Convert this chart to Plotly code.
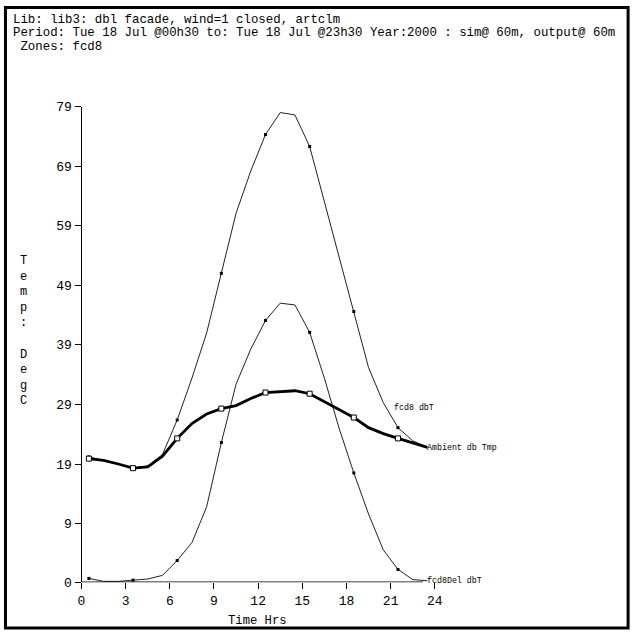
import plotly.graph_objects as go

# ---- data -------------------------------------------------------------
hours = [0.5, 1.5, 2.5, 3.5, 4.5, 5.5, 6.5, 7.5, 8.5, 9.5, 10.5, 11.5,
         12.5, 13.5, 14.5, 15.5, 16.5, 17.5, 18.5, 19.5, 20.5, 21.5, 22.5, 23.5]

fcd8_dbT = [20.2, 19.6, 18.9, 18.3, 18.7, 20.6, 26.4, 33.4, 41.0, 51.0, 61.1, 68.2,
            74.3, 78.0, 77.6, 72.3, 63.0, 53.8, 44.6, 35.2, 29.3, 25.1, 22.9, 21.8]

ambient_dbT = [19.9, 19.6, 19.0, 18.3, 18.5, 20.3, 23.3, 25.8, 27.4, 28.3, 28.8, 30.0,
               31.0, 31.2, 31.3, 30.8, 29.5, 28.2, 26.8, 25.1, 24.1, 23.3, 22.6, 21.8]

fcd8Del_dbT = [-0.2, -0.7, -0.7, -0.5, -0.3, 0.3, 2.8, 5.8, 11.8, 22.6, 32.4, 38.3,
               43.1, 46.0, 45.7, 41.1, 33.4, 25.0, 17.5, 10.6, 4.6, 1.3, -0.4, -0.6]

series_names = ["fcd8 dbT", "Ambient db Tmp", "fcd8Del dbT"]

x_tick_vals = [0, 3, 6, 9, 12, 15, 18, 21, 24]
x_tick_text = ["0", "3", "6", "9", "12", "15", "18", "21", "24"]

Y_MIN = -0.84
Y_MAX = 79.0
y_tick_vals = [Y_MIN, 9, 19, 29, 39, 49, 59, 69, 79]
y_tick_text = ["0", "9", "19", "29", "39", "49", "59", "69", "79"]

header_lines = [
    "Lib: lib3: dbl facade, wind=1 closed, artclm",
    "Period: Tue 18 Jul @00h30 to: Tue 18 Jul @23h30 Year:2000 : sim@ 60m, output@ 60m",
    " Zones: fcd8",
]
y_title = "Temp: DegC"
x_title = "Time Hrs"

# ---- figure -----------------------------------------------------------
W = H = 641
MONO = "Liberation Mono, DejaVu Sans Mono, monospace"

fig = go.Figure()

mk = slice(0, None, 3)

fig.add_trace(go.Scatter(x=hours, y=fcd8_dbT, mode="lines",
                         line=dict(color="#222", width=1), cliponaxis=False))
fig.add_trace(go.Scatter(x=hours[mk], y=fcd8_dbT[mk], mode="markers",
                         marker=dict(color="black", size=3, symbol="square"),
                         cliponaxis=False))

fig.add_trace(go.Scatter(x=hours, y=fcd8Del_dbT, mode="lines",
                         line=dict(color="#222", width=1), cliponaxis=False))
fig.add_trace(go.Scatter(x=hours[mk], y=fcd8Del_dbT[mk], mode="markers",
                         marker=dict(color="black", size=3, symbol="square"),
                         cliponaxis=False))

fig.add_trace(go.Scatter(x=hours, y=ambient_dbT, mode="lines",
                         line=dict(color="black", width=2.8), cliponaxis=False))
fig.add_trace(go.Scatter(x=hours[mk], y=ambient_dbT[mk], mode="markers",
                         marker=dict(color="white", size=5, symbol="square",
                                     line=dict(color="black", width=1)),
                         cliponaxis=False))

# domains so that x=0 -> px 79, x=24 -> px 439 ; y=Y_MIN -> px 590, y=79 -> px 103
fig.update_layout(
    width=W, height=H,
    margin=dict(l=0, r=0, t=0, b=0),
    paper_bgcolor="white", plot_bgcolor="white",
    showlegend=False,
    xaxis=dict(domain=[79 / W, 439 / W], range=[0, 24],
               tickvals=x_tick_vals, ticktext=x_tick_text,
               ticks="outside", ticklen=6, tickcolor="black", tickwidth=1,
               showgrid=False, zeroline=False, showline=False,
               tickfont=dict(family=MONO, size=13, color="black")),
    yaxis=dict(domain=[1 - 590 / H, 1 - 103 / H], range=[Y_MIN, Y_MAX],
               tickvals=y_tick_vals, ticktext=y_tick_text,
               ticks="outside", ticklen=6, tickcolor="black", tickwidth=1,
               showgrid=False, zeroline=False, showline=True,
               linecolor="black", linewidth=1,
               tickfont=dict(family=MONO, size=13, color="black")),
)

# x-axis baseline (ends at the last time step, as in the reference)
fig.add_shape(type="line", xref="x", yref="y", x0=0, x1=hours[-1] - 0.3,
              y0=Y_MIN, y1=Y_MIN, line=dict(color="black", width=1.5))

# outer frame
fig.add_shape(type="rect", xref="paper", yref="paper",
              x0=1.5 / W, x1=636 / W, y0=1 - 637 / H, y1=1 - 1.5 / H,
              line=dict(color="black", width=3))

# header
for i, t in enumerate(header_lines):
    fig.add_annotation(xref="paper", yref="paper", x=7 / W, y=1 - (14 + 14 * i) / H,
                       text=t.replace(" ", "&nbsp;"), showarrow=False,
                       xanchor="left", yanchor="middle",
                       font=dict(family=MONO, size=12.4, color="black"))

# axis titles
fig.add_annotation(xref="paper", yref="paper", x=258 / W, y=1 - 630 / H,
                   text=x_title, showarrow=False, xanchor="center", yanchor="middle",
                   font=dict(family=MONO, size=12.2, color="black"))
fig.add_annotation(xref="paper", yref="paper", x=20 / W, y=1 - 333 / H,
                   text="<br>".join(c if c != " " else "&nbsp;" for c in y_title),
                   showarrow=False, xanchor="center", yanchor="middle",
                   font=dict(family=MONO, size=12, color="black"))

# series labels
LBL = dict(family=MONO, size=8.3, color="black")
fig.add_annotation(x=21.07, y=28.5, xref="x", yref="y", text=series_names[0],
                   showarrow=False, xanchor="left", yanchor="middle", font=LBL)
fig.add_annotation(x=hours[-1], y=ambient_dbT[-1], xref="x", yref="y",
                   text=series_names[1], showarrow=False, xanchor="left",
                   yanchor="middle", font=LBL, xshift=-2)
fig.add_annotation(x=hours[-1], y=fcd8Del_dbT[-1], xref="x", yref="y",
                   text=series_names[2], showarrow=False, xanchor="left",
                   yanchor="middle", font=LBL, xshift=-2)

fig.write_html("out.html")
